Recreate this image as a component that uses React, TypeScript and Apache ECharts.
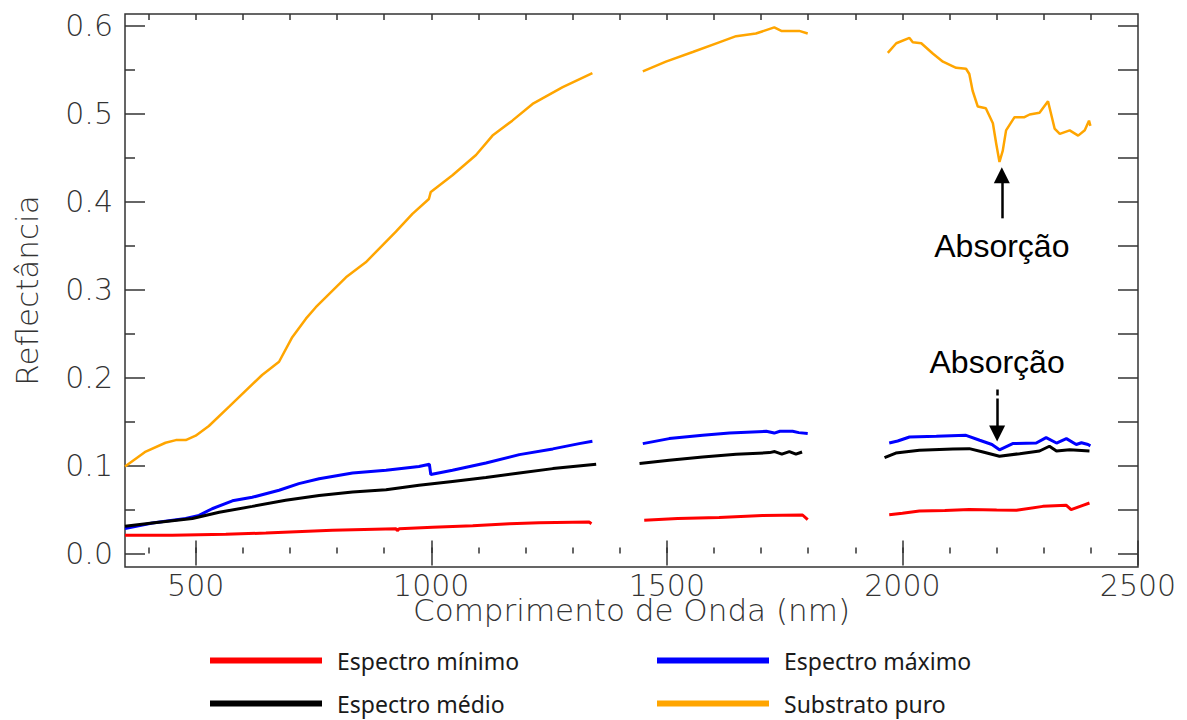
import React, { useEffect, useRef } from "react";
import * as echarts from "echarts";

// ---- Data (wavelength nm, reflectance) ----
const minSeg1 = [[350,0.0208],[450,0.021],[564,0.022],[649,0.0234],[790,0.0265],[925,0.0284],[928,0.026],[932,0.0284],[1003,0.030],[1088,0.0318],[1166,0.034],[1229,0.0352],[1335,0.0359],[1340,0.034]];
const minSeg2 = [[1452,0.0378],[1523,0.0398],[1611,0.041],[1703,0.0432],[1788,0.0439],[1799,0.0386]];
const minSeg3 = [[1972,0.0443],[2000,0.046],[2036,0.0484],[2090,0.049],[2142,0.05],[2200,0.0495],[2242,0.0492],[2298,0.0537],[2348,0.0549],[2358,0.050],[2383,0.0549],[2397,0.0575]];

const maxSeg1 = [[350,0.0284],[408,0.0348],[479,0.040],[507,0.0435],[535,0.051],[578,0.060],[620,0.064],[677,0.072],[719,0.0795],[762,0.085],[833,0.0916],[904,0.0947],[974,0.099],[996,0.1015],[999,0.090],[1045,0.0947],[1116,0.103],[1187,0.1125],[1258,0.119],[1314,0.125],[1342,0.1276]];
const maxSeg2 = [[1449,0.125],[1505,0.1307],[1576,0.1344],[1633,0.137],[1711,0.139],[1728,0.137],[1740,0.139],[1767,0.139],[1780,0.1375],[1799,0.1364]];
const maxSeg3 = [[1972,0.1257],[1990,0.128],[2015,0.1325],[2072,0.1333],[2135,0.1344],[2164,0.1288],[2190,0.124],[2206,0.118],[2234,0.125],[2284,0.1257],[2305,0.1318],[2327,0.1257],[2348,0.1307],[2369,0.124],[2380,0.126],[2394,0.124],[2399,0.1225]];

const meanSeg1 = [[350,0.031],[408,0.0348],[493,0.040],[550,0.047],[620,0.0537],[691,0.0606],[762,0.066],[833,0.070],[904,0.0727],[974,0.0776],[1045,0.082],[1116,0.0864],[1187,0.0916],[1258,0.0966],[1350,0.1015]];
const meanSeg2 = [[1442,0.1023],[1505,0.106],[1576,0.1098],[1647,0.1128],[1718,0.1148],[1729,0.116],[1744,0.113],[1760,0.116],[1774,0.113],[1787,0.1155]];
const meanSeg3 = [[1962,0.109],[1986,0.1143],[2036,0.1174],[2107,0.119],[2142,0.1193],[2171,0.1155],[2206,0.1106],[2249,0.1136],[2291,0.1166],[2312,0.122],[2327,0.1166],[2355,0.118],[2397,0.1166]];

const subSeg1 = [[350,0.099],[394,0.116],[436,0.126],[458,0.129],[479,0.129],[500,0.134],[528,0.145],[571,0.167],[641,0.203],[677,0.218],[705,0.246],[734,0.267],[755,0.280],[819,0.314],[861,0.331],[925,0.366],[960,0.386],[995,0.403],[999,0.411],[1045,0.430],[1095,0.453],[1130,0.475],[1172,0.492],[1215,0.511],[1279,0.530],[1342,0.546]];
const subSeg2 = [[1449,0.548],[1498,0.559],[1555,0.570],[1611,0.581],[1647,0.588],[1689,0.591],[1728,0.598],[1743,0.594],[1781,0.594],[1799,0.591]];
const subSeg3 = [[1969,0.569],[1987,0.580],[2015,0.586],[2022,0.581],[2040,0.580],[2065,0.568],[2086,0.559],[2114,0.552],[2135,0.551],[2142,0.545],[2149,0.526],[2160,0.508],[2177,0.506],[2192,0.489],[2199,0.466],[2206,0.445],[2213,0.458],[2220,0.481],[2238,0.496],[2259,0.496],[2270,0.499],[2291,0.501],[2309,0.514],[2323,0.483],[2334,0.477],[2355,0.481],[2373,0.475],[2387,0.481],[2396,0.492],[2399,0.486]];

const seriesNames = ["Espectro mínimo", "Espectro máximo", "Espectro médio", "Substrato puro"];
const seriesColors = ["#ff0000", "#0000ff", "#000000", "#ffa500"];

const xMajorTicks = [500, 1000, 1500, 2000, 2500];
const xMinorTicks = [400, 500, 600, 700, 800, 900, 1000, 1100, 1200, 1300, 1400, 1500, 1600, 1700, 1800, 1900, 2000, 2100, 2200, 2300, 2400];
const yMajorTicks = [0, 0.1, 0.2, 0.3, 0.4, 0.5, 0.6];
const yMinorTicks = [0.05, 0.15, 0.25, 0.35, 0.45, 0.55];
const yAllTicks = [0, 0.05, 0.1, 0.15, 0.2, 0.25, 0.3, 0.35, 0.4, 0.45, 0.5, 0.55, 0.6];

const annotationText = "Absorção";
const arrowUp = [[2211, 0.381], [2211, 0.43]];
const arrowDown = [[2201, 0.1864], [2201, 0.1364]];

function joinSegs(...segs: number[][][]) {
  const out: any[] = [];
  segs.forEach((s, i) => {
    if (i > 0) out.push([(segs[i - 1][segs[i - 1].length - 1][0] + s[0][0]) / 2, "-"]);
    s.forEach((p) => out.push(p));
  });
  return out;
}

const axisFont = { fontFamily: "DejaVu Sans", fontWeight: 200 as any, color: "#333", fontSize: 30 };

export default function App() {
  const ref = useRef<HTMLDivElement>(null);
  useEffect(() => {
    if (!ref.current) return;
    const chart = echarts.init(ref.current, undefined, { renderer: "svg" });
    const xBase = { type: "value", min: 350, max: 2500, gridIndex: 0, splitLine: { show: false }, axisLine: { show: false } };
    const yBase = { type: "value", min: -0.0152, max: 0.6132, gridIndex: 0, splitLine: { show: false }, axisLine: { show: false } };
    const tickStyle = { color: "#333", width: 1.5 };
    const mk = (vals: number[], len: number) => ({ show: true, inside: true, length: len, customValues: vals, lineStyle: tickStyle });
    const datas = [joinSegs(minSeg1, minSeg2, minSeg3), joinSegs(maxSeg1, maxSeg2, maxSeg3), joinSegs(meanSeg1, meanSeg2, meanSeg3), joinSegs(subSeg1, subSeg2, subSeg3)];
    const labelStyle = { show: true, formatter: annotationText, position: "start", distance: 12, fontFamily: "Liberation Sans", fontSize: 32, color: "#000" };
    const option: any = {
      animation: false,
      backgroundColor: "#fff",
      grid: { left: 125, top: 14, right: 49, bottom: 153, containLabel: false, outerBoundsMode: "none", show: true, borderColor: "#333", borderWidth: 1.5, backgroundColor: "transparent" },
      xAxis: [
        { ...xBase, position: "bottom", axisTick: mk(xMajorTicks, 13), axisLabel: { ...axisFont, customValues: xMajorTicks, margin: 3, formatter: (v: number) => String(v) },
          name: "Comprimento de Onda (nm)", nameLocation: "middle", nameGap: 27, nameMoveOverlap: false, nameTextStyle: { ...axisFont, fontSize: 31 } },
        { ...xBase, position: "bottom", axisTick: mk(xMinorTicks, 6), axisLabel: { show: false } },
        { ...xBase, position: "top", axisTick: mk(xMajorTicks, 12), axisLabel: { show: false } },
        { ...xBase, position: "top", axisTick: mk(xMinorTicks, 6), axisLabel: { show: false } },
      ],
      yAxis: [
        { ...yBase, position: "left", axisTick: mk(yMajorTicks, 20), axisLabel: { ...axisFont, customValues: yMajorTicks, margin: 12, formatter: (v: number) => v.toFixed(1) },
          name: "Reflectância", nameLocation: "middle", nameGap: 83, nameMoveOverlap: false, nameRotate: 90, nameTextStyle: { ...axisFont, fontSize: 31 } },
        { ...yBase, position: "left", axisTick: mk(yMinorTicks, 10), axisLabel: { show: false } },
        { ...yBase, position: "right", axisTick: mk(yAllTicks, 20), axisLabel: { show: false } },
      ],
      legend: [0, 1, 2, 3].map((i) => ({
        data: [{ name: seriesNames[i], icon: "rect" }],
        left: [210, 657, 210, 657][i],
        top: [649, 649, 692, 692][i],
        padding: 0,
        itemWidth: 112,
        itemHeight: 6,
        textStyle: { fontFamily: "Noto Sans", fontSize: 23, color: "#1a1a1a", padding: [0, 0, 0, 10] },
      })),
      series: datas.map((d, i) => ({
        type: "line",
        name: seriesNames[i],
        data: d,
        xAxisIndex: 0,
        yAxisIndex: 0,
        showSymbol: false,
        symbol: "none",
        connectNulls: false,
        color: seriesColors[i],
        lineStyle: { color: seriesColors[i], width: i === 3 ? 2.5 : 3 },
        z: 2 + i,
        markLine: i === 3 ? {
          silent: true,
          symbol: ["none", "triangle"],
          symbolSize: 16,
          lineStyle: { color: "#000", width: 2.5, type: "solid" },
          label: labelStyle,
          data: [
            [{ coord: arrowUp[0] }, { coord: arrowUp[1] }],
            [{ coord: arrowDown[0], lineStyle: { type: [6, 3, 60], color: "#000", width: 2.5 } }, { coord: arrowDown[1] }],
          ],
        } : undefined,
      })),
    };
    chart.setOption(option);
    return () => chart.dispose();
  }, []);
  return <div ref={ref} style={{ position: "fixed", left: 0, top: 0, width: 1187, height: 720, background: "#fff" }} />;
}
